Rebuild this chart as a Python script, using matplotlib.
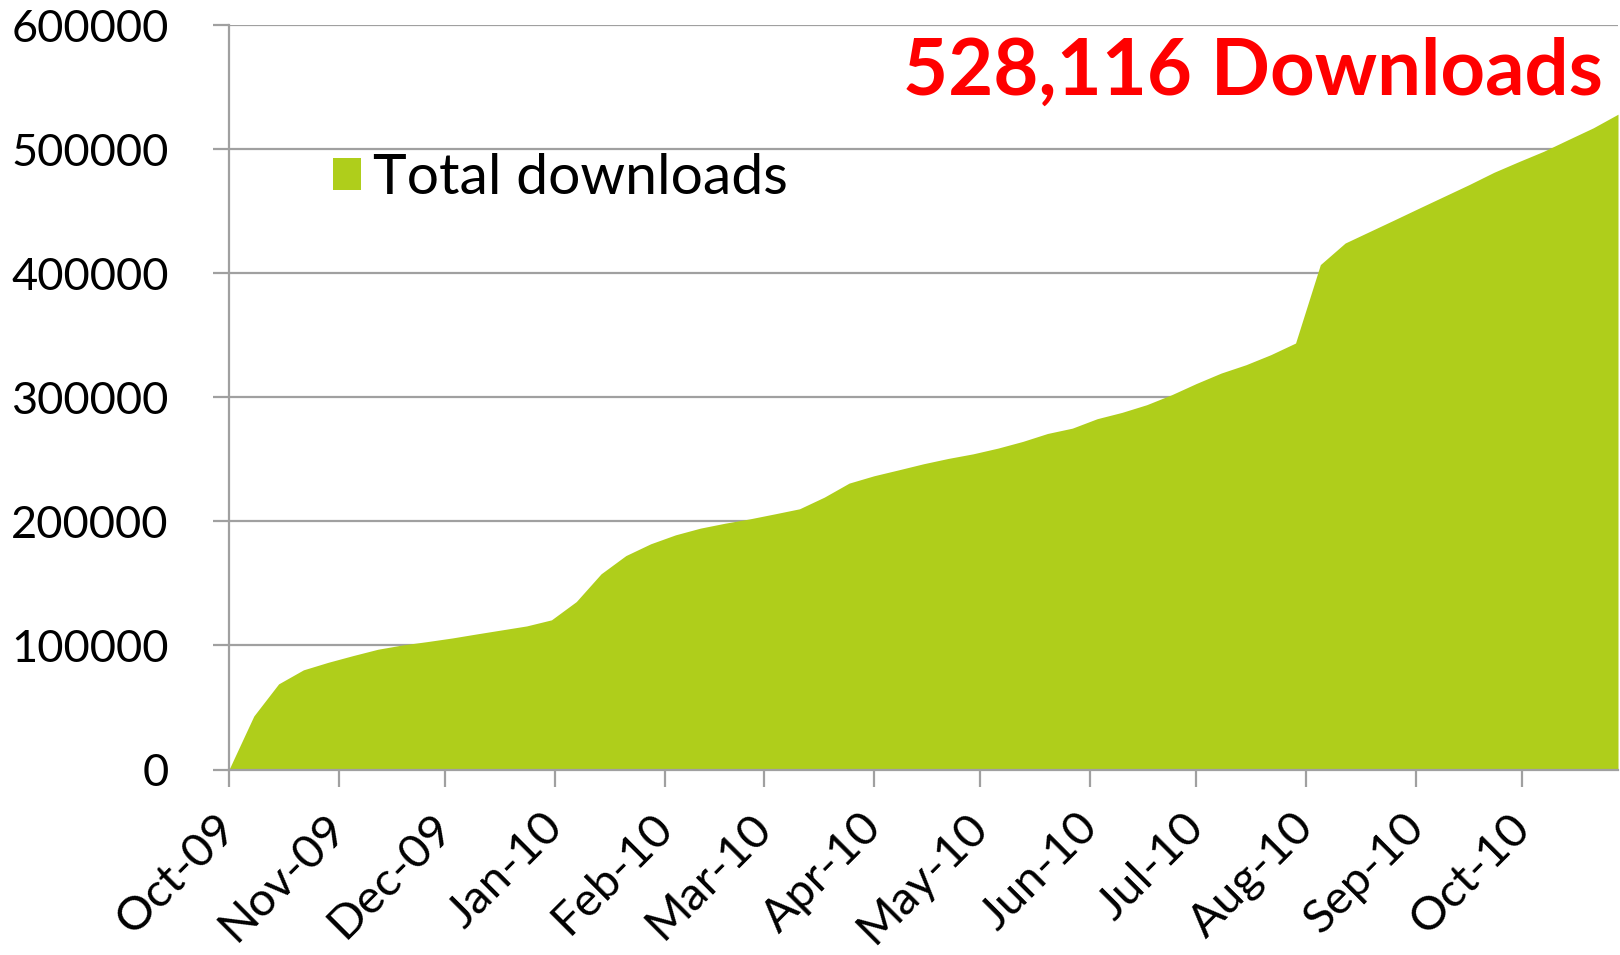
import matplotlib
matplotlib.use("Agg")
import matplotlib.pyplot as plt
import matplotlib.dates as mdates
import matplotlib.transforms as mtrans
from matplotlib.patches import Patch
import pandas as pd

# ---- data ----
start_date = "2009-10-01"
week_count = 57
total_downloads = [
    0, 43100, 69000, 80300, 86400, 91800, 96900, 100400, 103100, 106000,
    109300, 112500, 115700, 120600, 135300, 157700, 172400, 181900, 189100, 194500,
    198500, 202000, 206000, 210100, 219500, 230800, 236700, 241500, 246400, 250700,
    254400, 259000, 264400, 270800, 275100, 282700, 287800, 294000, 302000, 311100,
    319500, 326200, 334300, 343700, 406900, 424300, 433700, 443100, 452600, 462000,
    471400, 481300, 489900, 498200, 507700, 517100, 528116,
]
series_label = "Total downloads"
headline = "528,116 Downloads"
y_ticks = [0, 100000, 200000, 300000, 400000, 500000, 600000]

dates = pd.date_range(start_date, periods=week_count, freq="7D")

GREEN = "#AFCE1B"
GRAY = "#A0A0A0"
FONT = "Lato"

plt.rcParams["font.family"] = [FONT, "DejaVu Sans"]

W, H = 1620, 955
fig = plt.figure(figsize=(W / 100, H / 100), dpi=100)
left, right, top, bottom = 229, 1618, 25, 769.5
ax = fig.add_axes([left / W, 1 - bottom / H, (right - left) / W, (bottom - top) / H])

ax.fill_between(dates, total_downloads, 0, color=GREEN, linewidth=0, zorder=2)

ax.set_xlim(dates[0], dates[-1])
ax.set_ylim(0, 600000)
ax.set_yticks(y_ticks)
ax.set_yticklabels([str(v) for v in y_ticks])

ax.xaxis.set_major_locator(mdates.MonthLocator())
ax.xaxis.set_major_formatter(mdates.DateFormatter("%b-%y"))

ax.set_axisbelow(True)
ax.grid(axis="y", color=GRAY, linewidth=1.6)
ax.grid(axis="x", visible=False)

for s in ["top", "right"]:
    ax.spines[s].set_visible(False)
for s in ["left", "bottom"]:
    ax.spines[s].set_color(GRAY)
    ax.spines[s].set_linewidth(1.6)
    ax.spines[s].set_zorder(3)

ax.tick_params(axis="y", direction="out", length=11.5, width=1.6, color=GRAY,
               labelsize=32.5, pad=32, labelcolor="black")
ax.tick_params(axis="x", direction="out", length=12, width=1.6, color=GRAY,
               labelsize=34, pad=22, labelcolor="black")
offset = mtrans.ScaledTranslation(-14 / 100, 11 / 100, fig.dpi_scale_trans)
for lbl in ax.get_xticklabels():
    lbl.set_rotation(45)
    lbl.set_ha("right")
    lbl.set_va("top")
    lbl.set_rotation_mode("anchor")
    lbl.set_transform(lbl.get_transform() + offset)

ax.text(1603 / W, 1 - 73 / H, headline, transform=fig.transFigure,
        ha="right", va="center", color="#FF0000", fontsize=56, fontweight="bold")

leg = ax.legend(handles=[Patch(facecolor=GREEN, edgecolor="none", label=series_label)],
                loc="upper left", bbox_to_anchor=(333 / W, 1 - 153 / H),
                bbox_transform=fig.transFigure, frameon=False, fontsize=41,
                handlelength=0.5, handleheight=0.5, handletextpad=0.2,
                borderpad=0, borderaxespad=0)

fig.savefig("out.png", dpi=100, facecolor="white")
